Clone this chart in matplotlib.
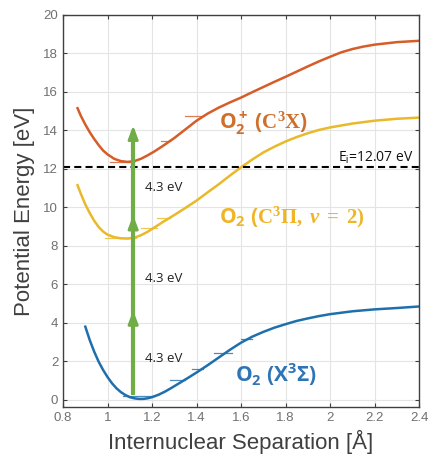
import matplotlib
matplotlib.use("Agg")
import matplotlib.pyplot as plt
import numpy as np

plt.rcParams['font.family'] = ['Liberation Sans', 'DejaVu Sans']
plt.rcParams['mathtext.fontset'] = 'custom'
plt.rcParams['mathtext.rm'] = 'Open Sans:bold'
plt.rcParams['mathtext.bf'] = 'Liberation Serif:bold'
plt.rcParams['mathtext.it'] = 'Liberation Serif:bold:italic'
plt.rcParams['mathtext.sf'] = 'Liberation Sans'

# potential energy curves (separation in Angstrom, energy in eV)
x_ground = [0.90, 0.92, 0.94, 0.96, 0.98, 1.00, 1.02, 1.04, 1.06, 1.08, 1.10,
            1.12, 1.14, 1.16, 1.18, 1.20, 1.23, 1.26, 1.29, 1.32, 1.36, 1.40,
            1.45, 1.50, 1.55, 1.60, 1.65, 1.70, 1.75, 1.80, 1.85, 1.90, 1.95,
            2.00, 2.10, 2.20, 2.30, 2.40]
e_ground = [3.80, 3.10, 2.50, 1.98, 1.55, 1.18, 0.86, 0.60, 0.40, 0.25, 0.14,
            0.08, 0.05, 0.05, 0.08, 0.14, 0.27, 0.44, 0.64, 0.85, 1.13, 1.42,
            1.80, 2.20, 2.60, 2.97, 3.28, 3.53, 3.75, 3.93, 4.10, 4.23, 4.35,
            4.45, 4.60, 4.70, 4.77, 4.85]

x_exc = [0.865, 0.88, 0.90, 0.92, 0.94, 0.96, 0.98, 1.00, 1.03, 1.06, 1.09,
         1.12, 1.15, 1.18, 1.21, 1.25, 1.30, 1.35, 1.40, 1.45, 1.50, 1.55,
         1.60, 1.65, 1.70, 1.75, 1.80, 1.85, 1.90, 1.95, 2.00, 2.10, 2.20,
         2.30, 2.40]
e_exc = [11.15, 10.70, 10.15, 9.70, 9.30, 8.98, 8.74, 8.58, 8.45, 8.39, 8.38,
         8.42, 8.55, 8.73, 8.95, 9.25, 9.60, 9.97, 10.35, 10.78, 11.20, 11.65,
         12.08, 12.48, 12.85, 13.15, 13.42, 13.65, 13.85, 14.02, 14.15, 14.35,
         14.50, 14.60, 14.66]

x_ion = [0.865, 0.88, 0.90, 0.92, 0.94, 0.96, 0.98, 1.00, 1.03, 1.06, 1.09,
         1.12, 1.15, 1.18, 1.21, 1.25, 1.30, 1.35, 1.40, 1.45, 1.50, 1.55,
         1.60, 1.65, 1.70, 1.75, 1.80, 1.85, 1.90, 1.95, 2.00, 2.05, 2.10,
         2.15, 2.20, 2.30, 2.40]
e_ion = [15.15, 14.75, 14.30, 13.90, 13.55, 13.23, 12.95, 12.75, 12.52, 12.40,
         12.36, 12.40, 12.52, 12.70, 12.90, 13.20, 13.60, 14.05, 14.50, 14.87,
         15.18, 15.45, 15.70, 15.98, 16.25, 16.52, 16.78, 17.05, 17.32, 17.58,
         17.82, 18.05, 18.22, 18.35, 18.45, 18.58, 18.65]

# vibrational levels drawn inside each well: (x start, x end, energy)
lev_ground = [(1.07, 1.21, 0.20), (1.28, 1.35, 1.04), (1.38, 1.43, 1.62),
              (1.48, 1.56, 2.45), (1.60, 1.65, 3.15)]
lev_exc = [(0.99, 1.13, 8.42), (1.15, 1.22, 8.95), (1.22, 1.28, 9.45)]
lev_ion = [(1.01, 1.12, 12.38), (1.24, 1.28, 13.45), (1.35, 1.43, 14.75)]

ion_energy = 12.07
photon = 4.3
arrow_x = 1.115
arrow_base = 0.25
arrow_tips = [4.65, 9.6, 14.25]

c_blue = '#1f6fad'
c_yellow = '#eab92a'
c_orange = '#d65c28'
c_green = '#70ad47'

fig = plt.figure(figsize=(4.32, 4.63), dpi=100)
ax = fig.add_axes([0.146, 0.121, 0.824, 0.847])

ax.plot(x_ground, e_ground, color=c_blue, lw=1.8)
ax.plot(x_exc, e_exc, color=c_yellow, lw=1.8)
ax.plot(x_ion, e_ion, color=c_orange, lw=1.8)

for levels, col in [(lev_ground, c_blue), (lev_exc, c_yellow), (lev_ion, c_orange)]:
    for x0, x1, e in levels:
        ax.plot([x0, x1], [e, e], color=col, lw=0.9, alpha=0.8)

ax.axhline(ion_energy, color='black', lw=1.5, ls=(0, (3.4, 2.0)))

# three stacked photon arrows
ax.plot([arrow_x, arrow_x], [arrow_base, arrow_tips[-1] - 0.3], color=c_green, lw=3,
        solid_capstyle='butt')
for tip in arrow_tips:
    ax.annotate('', xy=(arrow_x, tip), xytext=(arrow_x, tip - photon),
                arrowprops=dict(arrowstyle='-|>,head_length=0.8,head_width=0.3',
                                mutation_scale=10, color=c_green, lw=2,
                                shrinkA=0, shrinkB=0))

for y in [11.05, 6.3, 2.17]:
    ax.text(1.17, y, '4.3 eV', fontsize=9.5, family=['Open Sans', 'DejaVu Sans'],
            color='#222222', va='center', ha='left')

ax.text(2.375, 12.35, 'E$_\\mathsf{i}$=12.07 eV', fontsize=10,
        family=['Open Sans', 'DejaVu Sans'], color='#111111', ha='right', va='baseline')

ax.text(1.50, 14.1, r'$\mathrm{O_2^+\ (}\mathbf{C^3X}\mathrm{)}$', fontsize=15,
        color='#cf6f2c', ha='left', va='baseline')
ax.text(1.50, 9.17, r'$\mathrm{O_2\ (}\mathbf{C^3\Pi,}\;\nu\;\mathbf{=}\;\mathbf{2)}$',
        fontsize=15, color='#efb526', ha='left', va='baseline')
ax.text(1.575, 0.94, r'$\mathrm{O_2\ (X^3\Sigma)}$', fontsize=15,
        color='#2e75b6', ha='left', va='baseline')

ax.set_xlim(0.8, 2.4)
ax.set_ylim(-0.37, 20)
ax.set_xticks(np.arange(0.8, 2.41, 0.2))
ax.set_yticks(np.arange(0, 21, 2))
ax.set_xticklabels(['%g' % t for t in np.round(np.arange(0.8, 2.41, 0.2), 1)])
ax.grid(True, color='#e4e4e4', lw=0.8)
ax.set_axisbelow(True)
ax.tick_params(direction='in', length=3, top=True, right=True, labelsize=9.5,
               labelcolor='#707070', color='#404040')
for s in ax.spines.values():
    s.set_color('#404040')
    s.set_linewidth(1.0)

ax.set_xlabel('Internuclear Separation [Å]', fontsize=16, color='#404040', labelpad=4)
ax.set_ylabel('Potential Energy [eV]', fontsize=16, color='#404040', labelpad=6)

fig.savefig('out.png', dpi=100)
